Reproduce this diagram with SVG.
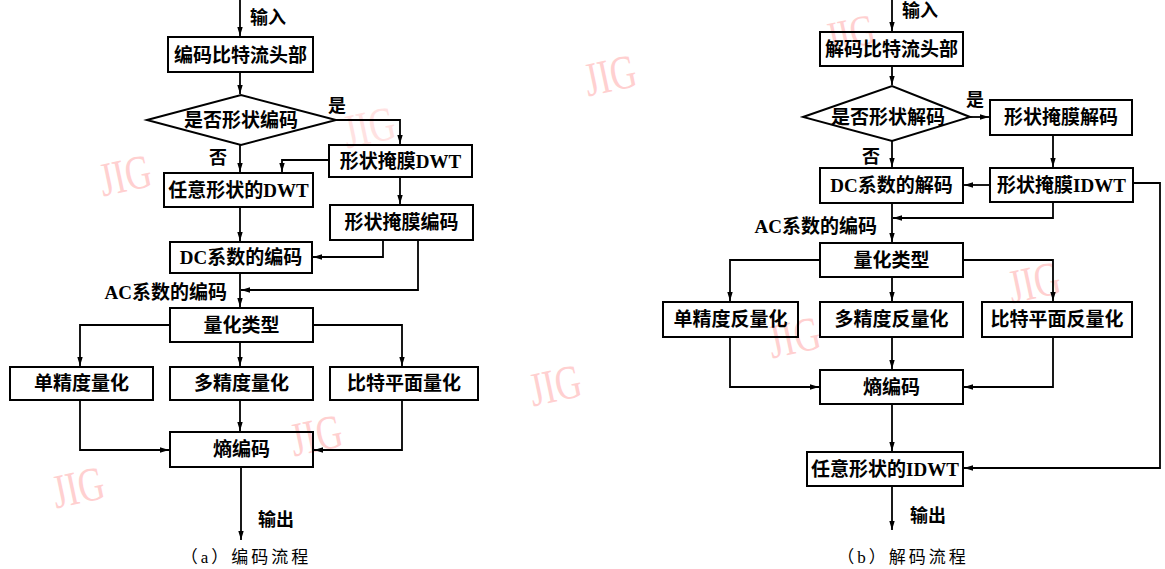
<svg xmlns="http://www.w3.org/2000/svg" width="1165" height="569" viewBox="0 0 1165 569">
<style>
.bg{fill:#fff}
.wm{font-family:"Liberation Serif",serif;font-size:48px;fill:#ffd0d0;text-anchor:middle;dominant-baseline:central}
.box{fill:none;stroke:#000;stroke-width:2}
.t{font-family:"Liberation Serif","Noto Sans CJK SC",sans-serif;font-size:19px;font-weight:bold;fill:#000;text-anchor:middle;dominant-baseline:central}
.lb{font-family:"Liberation Serif","Noto Sans CJK SC",sans-serif;font-size:18px;font-weight:bold;fill:#000;text-anchor:middle;dominant-baseline:central}
.cap{font-family:"Liberation Serif","Noto Sans CJK SC",sans-serif;font-size:17px;fill:#000;text-anchor:middle;dominant-baseline:central;letter-spacing:3px}
.c{fill:none;stroke:#000;stroke-width:1.8}
</style>
<defs>
<marker id="ah" viewBox="0 0 10 6" refX="10" refY="3" markerWidth="9" markerHeight="6" orient="auto" markerUnits="userSpaceOnUse"><path d="M0,0 L10,3 L0,6 z" fill="#000"/></marker>
</defs>
<rect class="bg" x="0" y="0" width="1165" height="569"/>
<g id="watermarks">
<text class="wm" transform="translate(125,175) rotate(-12) scale(0.75,1)">JIG</text>
<text class="wm" transform="translate(369,127) rotate(-12) scale(0.75,1)" style="fill:#ffe2e2">JIG</text>
<text class="wm" transform="translate(316,435) rotate(-12) scale(0.75,1)">JIG</text>
<text class="wm" transform="translate(78,487) rotate(-12) scale(0.75,1)">JIG</text>
<text class="wm" transform="translate(610,75) rotate(-12) scale(0.75,1)">JIG</text>
<text class="wm" transform="translate(555,385) rotate(-12) scale(0.75,1)">JIG</text>
<text class="wm" transform="translate(850,33) rotate(-12) scale(0.72,0.9)">JIG</text>
<text class="wm" transform="translate(794,337) rotate(-12) scale(0.75,1)">JIG</text>
<text class="wm" transform="translate(1034,282) rotate(-12) scale(0.75,1)">JIG</text>
</g>
<g id="connectors">
<path class="c" marker-end="url(#ah)" d="M240,0 V36"/>
<path class="c" marker-end="url(#ah)" d="M240,72 V94"/>
<path class="c" marker-end="url(#ah)" d="M336,120 H400 V144"/>
<path class="c" marker-end="url(#ah)" d="M240,145 V172"/>
<path class="c" marker-end="url(#ah)" d="M329,160 H282 V172"/>
<path class="c" marker-end="url(#ah)" d="M400,177 V204"/>
<path class="c" marker-end="url(#ah)" d="M240,207 V241"/>
<path class="c" marker-end="url(#ah)" d="M383,240 V257 H313"/>
<path class="c" marker-end="url(#ah)" d="M418,240 V290 H241"/>
<path class="c" marker-end="url(#ah)" d="M240,273 V307"/>
<path class="c" marker-end="url(#ah)" d="M170,325 H80 V366"/>
<path class="c" marker-end="url(#ah)" d="M240,342 V366"/>
<path class="c" marker-end="url(#ah)" d="M313,325 H402 V366"/>
<path class="c" marker-end="url(#ah)" d="M80,400 V450 H169"/>
<path class="c" marker-end="url(#ah)" d="M240,400 V431"/>
<path class="c" marker-end="url(#ah)" d="M402,400 V450 H314"/>
<path class="c" marker-end="url(#ah)" d="M241,467 V540"/>
<path class="c" marker-end="url(#ah)" d="M892,0 V31"/>
<path class="c" marker-end="url(#ah)" d="M892,66 V85"/>
<path class="c" marker-end="url(#ah)" d="M970,117 H989"/>
<path class="c" marker-end="url(#ah)" d="M892,141 V167"/>
<path class="c" marker-end="url(#ah)" d="M1053,135 V167"/>
<path class="c" marker-end="url(#ah)" d="M990,185 H964"/>
<path class="c" marker-end="url(#ah)" d="M1133,183 H1160 V468 H964"/>
<path class="c" marker-end="url(#ah)" d="M1053,202 V218 H893"/>
<path class="c" marker-end="url(#ah)" d="M892,203 V242"/>
<path class="c" marker-end="url(#ah)" d="M820,260 H730 V301"/>
<path class="c" marker-end="url(#ah)" d="M892,277 V301"/>
<path class="c" marker-end="url(#ah)" d="M963,260 H1053 V301"/>
<path class="c" marker-end="url(#ah)" d="M730,337 V387 H819"/>
<path class="c" marker-end="url(#ah)" d="M892,337 V369"/>
<path class="c" marker-end="url(#ah)" d="M1053,337 V387 H964"/>
<path class="c" marker-end="url(#ah)" d="M892,404 V451"/>
<path class="c" marker-end="url(#ah)" d="M892,486 V530"/>
</g>
<g id="labels">
<text class="lb" x="268" y="18">输入</text>
<text class="lb" x="337" y="106">是</text>
<text class="lb" x="218" y="158">否</text>
<text class="t" x="227" y="292" style="text-anchor:end">AC系数的编码</text>
<text class="lb" x="276" y="520">输出</text>
<text class="cap" x="246" y="557">（a）编码流程</text>
<text class="lb" x="920" y="11">输入</text>
<text class="lb" x="975" y="100">是</text>
<text class="lb" x="871" y="157">否</text>
<text class="t" x="877" y="226" style="text-anchor:end">AC系数的编码</text>
<text class="lb" x="928" y="516">输出</text>
<text class="cap" x="903" y="557">（b）解码流程</text>
</g>
<g id="a-header"><rect class="box" x="168" y="37" width="145" height="35"/><text class="t" x="240.5" y="55">编码比特流头部</text></g>
<g id="a-decision"><polygon class="box" points="147,120 241,95 336,120 241,145"/><text class="t" x="241" y="120">是否形状编码</text></g>
<g id="a-maskdwt"><rect class="box" x="329" y="145" width="143" height="32"/><text class="t" x="400.5" y="161">形状掩膜DWT</text></g>
<g id="a-anydwt"><rect class="box" x="164" y="173" width="149" height="34"/><text class="t" x="238.5" y="190">任意形状的DWT</text></g>
<g id="a-maskcode"><rect class="box" x="330" y="205" width="143" height="35"/><text class="t" x="401.5" y="222.5">形状掩膜编码</text></g>
<g id="a-dc"><rect class="box" x="170" y="242" width="142" height="31"/><text class="t" x="241" y="257.5">DC系数的编码</text></g>
<g id="a-qtype"><rect class="box" x="170" y="308" width="143" height="34"/><text class="t" x="241.5" y="325">量化类型</text></g>
<g id="a-single"><rect class="box" x="10" y="367" width="143" height="33"/><text class="t" x="81.5" y="383.5">单精度量化</text></g>
<g id="a-multi"><rect class="box" x="170" y="367" width="143" height="33"/><text class="t" x="241.5" y="383.5">多精度量化</text></g>
<g id="a-bitplane"><rect class="box" x="330" y="367" width="148" height="33"/><text class="t" x="404" y="383.5">比特平面量化</text></g>
<g id="a-entropy"><rect class="box" x="170" y="432" width="143" height="35"/><text class="t" x="241.5" y="449.5">熵编码</text></g>
<g id="b-header"><rect class="box" x="820" y="32" width="143" height="34"/><text class="t" x="891.5" y="49">解码比特流头部</text></g>
<g id="b-decision"><polygon class="box" points="803,117 892,86 970,117 892,141"/><text class="t" x="888" y="117">是否形状解码</text></g>
<g id="b-maskdec"><rect class="box" x="990" y="100" width="142" height="35"/><text class="t" x="1061" y="117.5">形状掩膜解码</text></g>
<g id="b-dc"><rect class="box" x="820" y="168" width="143" height="35"/><text class="t" x="891.5" y="185.5">DC系数的解码</text></g>
<g id="b-maskidwt"><rect class="box" x="990" y="168" width="143" height="34"/><text class="t" x="1061.5" y="185">形状掩膜IDWT</text></g>
<g id="b-qtype"><rect class="box" x="820" y="243" width="143" height="34"/><text class="t" x="891.5" y="260">量化类型</text></g>
<g id="b-single"><rect class="box" x="663" y="302" width="135" height="35"/><text class="t" x="730.5" y="319.5">单精度反量化</text></g>
<g id="b-multi"><rect class="box" x="820" y="302" width="143" height="35"/><text class="t" x="891.5" y="319.5">多精度反量化</text></g>
<g id="b-bitplane"><rect class="box" x="982" y="302" width="150" height="35"/><text class="t" x="1057" y="319.5">比特平面反量化</text></g>
<g id="b-entropy"><rect class="box" x="820" y="370" width="143" height="34"/><text class="t" x="891.5" y="387">熵编码</text></g>
<g id="b-anyidwt"><rect class="box" x="807" y="452" width="156" height="34"/><text class="t" x="885" y="469">任意形状的IDWT</text></g>
</svg>
